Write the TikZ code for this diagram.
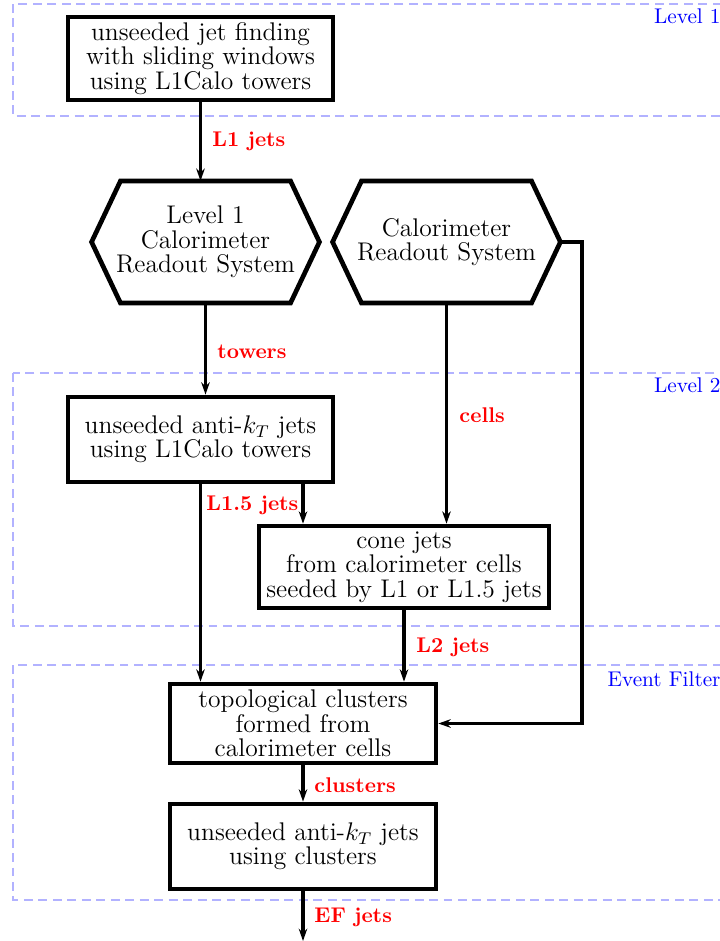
\documentclass[tikz,border=0pt]{standalone}
\usetikzlibrary{arrows.meta}
\begin{document}
\begin{tikzpicture}[x=0.47pt,y=-0.47pt,
  boxtext/.style={align=center, inner sep=0pt, font=\fontsize{12}{11.5}\selectfont},
  stage/.style={boxtext, draw, line width=2.2pt},
  hexnode/.style={boxtext, minimum width=106.7pt, minimum height=57pt},
  hexline/.style={line width=2.2pt, line join=miter},
  flow/.style={line width=1.6pt, -{Stealth[length=5.8pt,width=4pt,inset=1.9pt]}},
  datalbl/.style={red, font=\bfseries, inner sep=0pt, anchor=west},
  level/.style={draw=blue!30, line width=0.6pt, dash pattern=on 4.2pt off 2.6pt},
  levellbl/.style={blue, inner sep=0pt, anchor=east}
]
\useasboundingbox (0,0) rectangle (719,941);

% trigger levels
\draw[level] (13,4) rectangle (740,116);
\draw[level] (13,373) rectangle (740,626);
\draw[level] (13,665) rectangle (740,900);
\node[levellbl] (lvl1) at (721,16) {Level 1};
\node[levellbl] (lvl2) at (721,385) {Level 2};
\node[levellbl] (lvlef) at (721,679) {Event Filter};

% processing stages
\node[stage, minimum width=124.6pt, minimum height=39pt] (slide) at (200.5,58.5)
  {unseeded jet finding\\with sliding windows\\using L1Calo towers};
\node[hexnode] (lonecalo) at (205.5,242) {Level 1\\Calorimeter\\Readout System};
\node[hexnode] (calo) at (446.5,242) {Calorimeter\\Readout System};
\node[stage, minimum width=124.6pt, minimum height=40pt] (antikt) at (200.5,439.5)
  {unseeded anti-$k_T$ jets\\using L1Calo towers};
\node[stage, minimum width=136.3pt, minimum height=38.5pt] (cone) at (404,567)
  {cone jets\\from calorimeter cells\\seeded by L1 or L1.5 jets};
\node[stage, minimum width=125pt, minimum height=37.1pt] (topo) at (303,723.5)
  {topological clusters\\formed from\\calorimeter cells};
\node[stage, minimum width=125pt, minimum height=40pt] (efjets) at (303,846.5)
  {unseeded anti-$k_T$ jets\\using clusters};

% hexagonal outlines of the readout systems
\foreach \h in {lonecalo, calo}{
  \draw[hexline] (\h.west) -- ([xshift=13.6pt]\h.north west) -- ([xshift=-13.6pt]\h.north east)
    -- (\h.east) -- ([xshift=-13.6pt]\h.south east) -- ([xshift=13.6pt]\h.south west) -- cycle;
}

% connectors
\coordinate (side) at (582,242);
\coordinate (efout) at (303,941);
\draw[flow] (slide.south) -- (slide.south |- lonecalo.north);
\draw[flow] (lonecalo.south) -- (lonecalo.south |- antikt.north);
\draw[flow] (calo.south) -- (calo.south |- cone.north);
\draw[flow] (calo.east) -- (side) |- (topo.east);
\draw[flow] (topo.north |- antikt.south) -- (topo.north |- cone.north);
\draw[flow] (antikt.south) -- (antikt.south |- topo.north);
\draw[flow] (cone.south) -- (cone.south |- topo.north);
\draw[flow] (topo.south) -- (efjets.north);
\draw[flow] (efjets.south) -- (efout);

% data labels
\node[datalbl] (l1j) at (212,141) {L1 jets};
\node[datalbl] (tow) at (217,352) {towers};
\node[datalbl] (cel) at (459,415) {cells};
\node[datalbl] (l15j) at (206,505) {L1.5 jets};
\node[datalbl] (l2j) at (416,647) {L2 jets};
\node[datalbl] (clu) at (314,785) {clusters};
\node[datalbl] (efj) at (314,917) {EF jets};
\end{tikzpicture}
\end{document}
